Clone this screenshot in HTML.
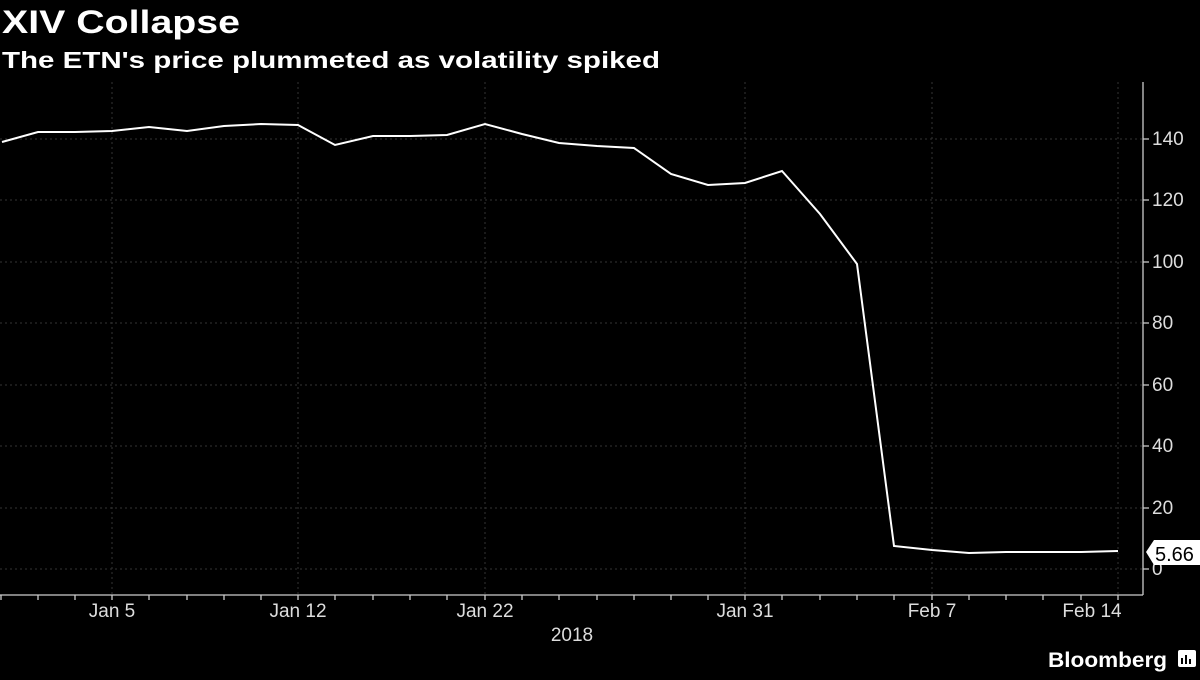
<!DOCTYPE html>
<html><head><meta charset="utf-8"><style>
body{margin:0;background:#000;width:1200px;height:675px;overflow:hidden;font-family:"Liberation Sans",sans-serif}
</style></head><body>
<svg width="1200" height="675" xmlns="http://www.w3.org/2000/svg">
<rect width="1200" height="675" fill="#000"/>
<text x="2" y="33" fill="#fff" font-size="32" font-weight="bold" textLength="238" lengthAdjust="spacingAndGlyphs" font-family="Liberation Sans,sans-serif">XIV Collapse</text>
<text x="2" y="68" fill="#fff" font-size="23" font-weight="bold" textLength="658" lengthAdjust="spacingAndGlyphs" font-family="Liberation Sans,sans-serif">The ETN's price plummeted as volatility spiked</text>
<g stroke="#333" stroke-dasharray="2,3" stroke-width="1">
<line x1="0" x2="1143" y1="139" y2="139"/><line x1="0" x2="1143" y1="200" y2="200"/><line x1="0" x2="1143" y1="262" y2="262"/><line x1="0" x2="1143" y1="323" y2="323"/><line x1="0" x2="1143" y1="385" y2="385"/><line x1="0" x2="1143" y1="446" y2="446"/><line x1="0" x2="1143" y1="508" y2="508"/><line x1="0" x2="1143" y1="569" y2="569"/>
<line x1="112" x2="112" y1="82" y2="595"/><line x1="298" x2="298" y1="82" y2="595"/><line x1="485" x2="485" y1="82" y2="595"/><line x1="745" x2="745" y1="82" y2="595"/><line x1="932" x2="932" y1="82" y2="595"/><line x1="1118" x2="1118" y1="82" y2="595"/>
</g>
<g stroke="#ccc" stroke-width="1.3">
<line x1="0" x2="1143" y1="595" y2="595"/><line x1="1143" x2="1143" y1="82" y2="595"/>
<path d="M1143 139h6M1143 200h6M1143 262h6M1143 323h6M1143 385h6M1143 446h6M1143 508h6M1143 569h6"/>
<path d="M1 595v5M38 595v5M75 595v5M112 595v5M149 595v5M187 595v5M224 595v5M261 595v5M298 595v5M335 595v5M373 595v5M410 595v5M447 595v5M485 595v5M522 595v5M559 595v5M597 595v5M634 595v5M671 595v5M708 595v5M745 595v5M782 595v5M820 595v5M857 595v5M894 595v5M932 595v5M969 595v5M1006 595v5M1043 595v5M1081 595v5M1118 595v5"/>
</g>
<polyline fill="none" stroke="#fff" stroke-width="2" points="2,142 38,132 75,132 112,131 149,127 187,131 224,126 261,124 298,125 335,145 373,136 410,136 447,135 485,124 522,134 559,143 597,146 634,148 671,174 708,185 745,183 782,171 820,214 857,264 894,546 932,550 969,553 1006,552 1043,552 1081,552 1118,551"/>
<g fill="#ddd" font-size="19" font-family="Liberation Sans,sans-serif">
<text x="1152" y="145">140</text><text x="1152" y="206">120</text><text x="1152" y="268">100</text><text x="1152" y="329">80</text><text x="1152" y="391">60</text><text x="1152" y="452">40</text><text x="1152" y="514">20</text><text x="1152" y="575">0</text>
<g text-anchor="middle"><text x="112" y="617">Jan 5</text><text x="298" y="617">Jan 12</text><text x="485" y="617">Jan 22</text><text x="745" y="617">Jan 31</text><text x="932" y="617">Feb 7</text><text x="1092" y="617">Feb 14</text><text x="572" y="641">2018</text></g>
</g>
<polygon points="1146,552 1154,540 1200,540 1200,565 1154,565" fill="#fff"/>
<text x="1155" y="561" fill="#000" font-size="20" font-family="Liberation Sans,sans-serif">5.66</text>
<text x="1048" y="667" fill="#fff" font-size="21" font-weight="bold" textLength="119" lengthAdjust="spacingAndGlyphs" font-family="Liberation Sans,sans-serif">Bloomberg</text>
<rect x="1178" y="650" width="18" height="17" rx="2" fill="#fff"/>
<path d="M1182 664v-6M1186 664v-9M1190 664v-5" stroke="#000" stroke-width="2"/>
</svg>
</body></html>
